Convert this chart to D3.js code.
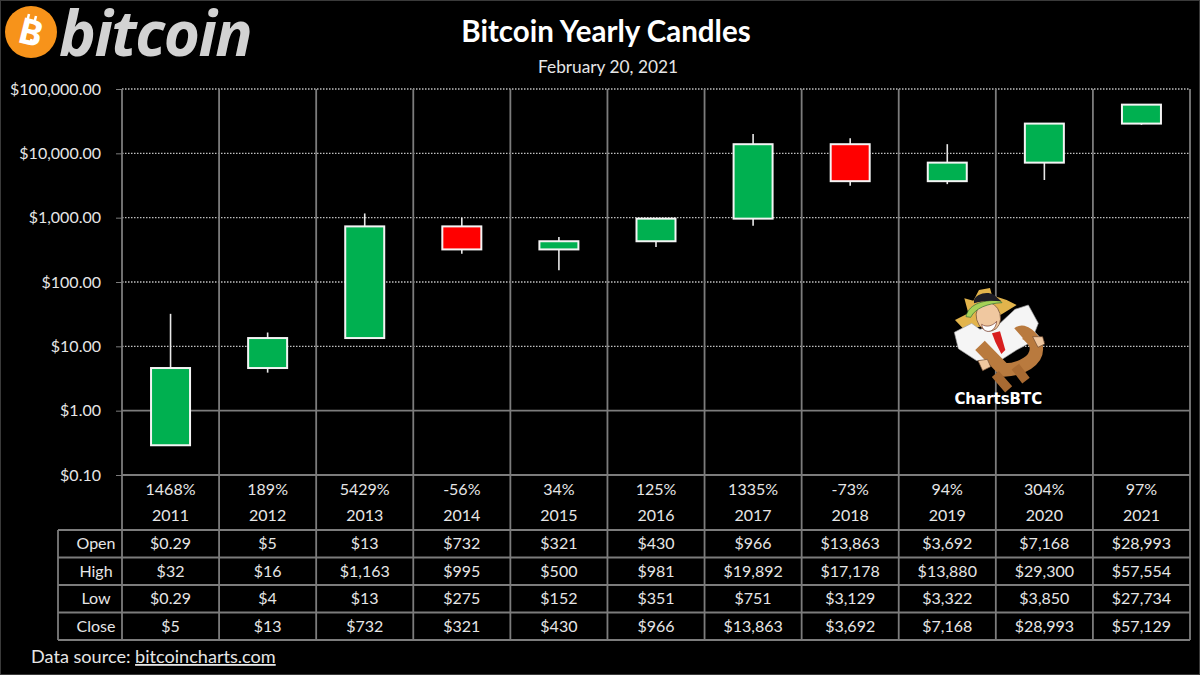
<!DOCTYPE html>
<html>
<head>
<meta charset="utf-8">
<script src="https://cdn.jsdelivr.net/npm/d3@7"></script>
<style>
  html, body { margin: 0; padding: 0; background: #000; }
  svg { display: block; }
  text { font-family: Lato, "Open Sans", sans-serif; fill: #e6e6e6; }
</style>
</head>
<body>
<svg width="1200" height="675"></svg>
<script>
// Values
const years = ["2011", "2012", "2013", "2014", "2015", "2016", "2017", "2018", "2019", "2020", "2021"];
const changes = ["1468%", "189%", "5429%", "-56%", "34%", "125%", "1335%", "-73%", "94%", "304%", "97%"];
const open = [0.29, 4.6, 13.45, 732, 321, 430, 966, 13863, 3692, 7168, 28993];
const high = [32, 16.4, 1163, 995, 500, 981, 19892, 17178, 13880, 29300, 57554];
const low = [0.29, 3.9, 13.3, 275, 152, 351, 751, 3129, 3322, 3850, 27734];
const close = [4.6, 13.45, 732, 321, 430, 966, 13863, 3692, 7168, 28993, 57129];
const rowNames = ["Open", "High", "Low", "Close"];
const rowValues = [open, high, low, close];
const priceTicks = [100000, 10000, 1000, 100, 10, 1, 0.1];

const svg = d3.select("svg");
const gridColor = "#7c7c7c";

const x = d3.scaleBand().domain(years).range([122, 1190]);
const y = d3.scaleLog().domain([0.1, 100000]).range([475, 89]);
const rowY = d3.scaleBand().domain(rowNames).range([530, 640]);

const money2 = d3.format("$,.2f");
const money0 = d3.format("$,.0f");
const cellLabel = v => (v < 1 ? money2(v) : money0(v));

svg.append("rect").attr("x", 0.5).attr("y", 0.5).attr("width", 1199).attr("height", 674)
  .attr("fill", "#000").attr("stroke", "#3a3a3a");

// Logo
const logo = svg.append("g");
logo.append("circle").attr("cx", 31).attr("cy", 32).attr("r", 26).attr("fill", "#f7931a");
logo.append("text").attr("x", 31).attr("y", 45)
  .attr("text-anchor", "middle")
  .attr("transform", "rotate(14 31 32)")
  .style("font-family", "'Open Sans'").style("font-weight", 700).style("font-size", "36px")
  .style("fill", "#fff").text("B");
logo.append("path")
  .attr("d", "M29 14l-1.5 6M36 16l-1.5 6M23 43l1.5 -6M30 45l1.5 -6")
  .attr("stroke", "#fff").attr("stroke-width", 2.5);
logo.append("text").attr("x", 59).attr("y", 56)
  .style("font-family", "'Open Sans'").style("font-style", "italic").style("font-weight", 700)
  .style("font-size", "62px").style("letter-spacing", "-1.5px")
  .style("fill", "#d2d2d2").text("bitcoin");

// Titles
svg.append("text").attr("x", 606).attr("y", 42).attr("text-anchor", "middle")
  .style("font-size", "29.5px").style("font-weight", 700).style("fill", "#fff")
  .text("Bitcoin Yearly Candles");
svg.append("text").attr("x", 608).attr("y", 73).attr("text-anchor", "middle")
  .style("font-size", "17.3px").text("February 20, 2021");

// Y axis and horizontal grid
const yAxis = d3.axisLeft(y).tickValues(priceTicks).tickFormat(money2)
  .tickSize(6).tickPadding(15);
const yG = svg.append("g").attr("transform", "translate(122,0)").call(yAxis);
yG.select(".domain").remove();
yG.selectAll(".tick line").attr("stroke", gridColor);
yG.selectAll(".tick text").style("font-size", "16px").attr("fill", "#e6e6e6");

svg.append("g").selectAll("line").data(priceTicks).join("line")
  .attr("x1", 122).attr("x2", 1190)
  .attr("y1", d => y(d)).attr("y2", d => y(d))
  .attr("stroke", d => (d > 1 ? "#c0c0c0" : gridColor))
  .attr("stroke-width", d => (d > 1 ? 1.3 : 1.8))
  .attr("stroke-dasharray", d => (d > 1 ? "1.5,1.5" : null));

// Vertical lines run from the plot down through the table
const edges = years.map(d => x(d)).concat([x.range()[1]]);
svg.append("g").selectAll("line").data(edges).join("line")
  .attr("x1", d => d).attr("x2", d => d)
  .attr("y1", 89).attr("y2", 640)
  .attr("stroke", gridColor).attr("stroke-width", 1.8);

// Table rules
const rules = rowNames.map(d => rowY(d)).concat([rowY.range()[1]]);
svg.append("g").selectAll("line").data(rules).join("line")
  .attr("x1", 58).attr("x2", 1190)
  .attr("y1", d => d).attr("y2", d => d)
  .attr("stroke", gridColor).attr("stroke-width", 1.8);
svg.append("line").attr("x1", 58).attr("x2", 58).attr("y1", 530).attr("y2", 640)
  .attr("stroke", gridColor).attr("stroke-width", 1.8);

// Candles
const candles = svg.append("g").selectAll("g").data(years).join("g");
candles.append("line")
  .attr("x1", d => x(d) + x.bandwidth() / 2).attr("x2", d => x(d) + x.bandwidth() / 2)
  .attr("y1", (d, i) => y(high[i])).attr("y2", (d, i) => y(low[i]))
  .attr("stroke", "#e8e8e8").attr("stroke-width", 1.6);
candles.append("rect")
  .attr("x", d => x(d) + x.bandwidth() / 2 - 19.5)
  .attr("width", 39)
  .attr("y", (d, i) => y(Math.max(open[i], close[i])))
  .attr("height", (d, i) => Math.abs(y(open[i]) - y(close[i])))
  .attr("fill", (d, i) => (close[i] >= open[i] ? "#00b050" : "#ff0000"))
  .attr("stroke", "#f4f4f4").attr("stroke-width", 2);

// Percent change and year labels
const centre = d => x(d) + x.bandwidth() / 2;
svg.append("g").selectAll("text").data(years).join("text")
  .attr("x", centre).attr("y", 495).attr("text-anchor", "middle")
  .style("font-size", "16px").text((d, i) => changes[i]);
svg.append("g").selectAll("text").data(years).join("text")
  .attr("x", centre).attr("y", 521).attr("text-anchor", "middle")
  .style("font-size", "16px").text(d => d);

// Table contents
svg.append("g").selectAll("text").data(rowNames).join("text")
  .attr("x", 96).attr("y", d => rowY(d) + rowY.bandwidth() / 2 + 5.5)
  .attr("text-anchor", "middle").style("font-size", "16px").text(d => d);
rowNames.forEach((name, r) => {
  svg.append("g").selectAll("text").data(years).join("text")
    .attr("x", centre).attr("y", rowY(name) + rowY.bandwidth() / 2 + 5.5)
    .attr("text-anchor", "middle").style("font-size", "16px")
    .text((d, i) => cellLabel(rowValues[r][i]));
});

// Source line
const source = svg.append("text").attr("x", 31).attr("y", 663).style("font-size", "18.1px");
source.append("tspan").text("Data source: ");
source.append("tspan").style("text-decoration", "underline").text("bitcoincharts.com");

// Mascot, hand drawn in a 3x space so it is easier to trace
const mascot = svg.append("g").attr("transform", "translate(900,270) scale(0.3333)");
const shape = (d, fill, stroke, w) => mascot.append("path").attr("d", d).attr("fill", fill)
  .attr("stroke", stroke || "none").attr("stroke-width", w || 2)
  .attr("stroke-linejoin", "round").attr("stroke-linecap", "butt");
// gear
shape("M165 150L205 130L193 85L220 92L237 60L270 54L276 76L320 90L350 105L310 130L240 170L190 176Z", "#e2b44c");
// shirt
shape("M163 187L215 160L240 178L300 160L345 118L385 105L415 160L405 186L432 215L420 236L395 216L350 240L300 272L230 272L175 236Z", "#f5f5f5", "#9a9a9a");
// coin symbol
shape("M240 226L312 300C360 300 418 272 408 226C398 204 372 176 356 190", "none", "#b97a3e", 40);
shape("M286 312L326 358M346 290L378 332", "none", "#a86a32", 28);
// hands
shape("M234 272L262 268L272 290L248 302Z", "#f0c8a0", "#704a30");
shape("M398 200L428 200L434 222L414 232Z", "#f0c8a0", "#704a30");
// tie
shape("M276 190L300 184L316 240L304 252L286 216Z", "#d81e1e");
// head
mascot.append("ellipse").attr("cx", 265).attr("cy", 140).attr("rx", 36).attr("ry", 44)
  .attr("transform", "rotate(-15 265 140)")
  .attr("fill", "#f0c8a0").attr("stroke", "#704a30").attr("stroke-width", 2);
shape("M245 163C258 172 276 170 290 154C288 176 274 186 262 184C252 183 246 174 245 163Z", "#fff", "#703020");
shape("M198 140C204 108 240 88 300 92L306 98C264 100 226 114 212 142Z", "#a6d257", "#2d6a3a");
shape("M222 90C228 72 260 62 282 74L304 94C272 90 244 92 222 100Z", "#1d1d26");
mascot.append("text").attr("x", 295).attr("y", 402).attr("text-anchor", "middle")
  .style("font-family", "'DejaVu Sans'").style("font-weight", 700).style("font-size", "45px")
  .style("fill", "#fff").text("ChartsBTC");
</script>
</body>
</html>
